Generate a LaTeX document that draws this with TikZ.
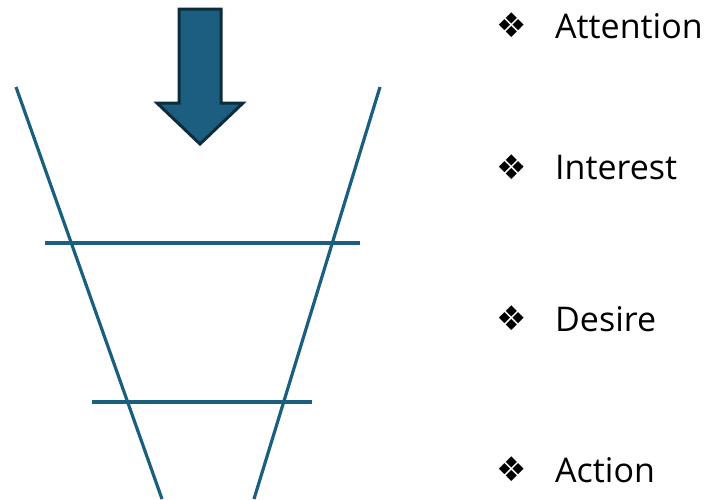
\documentclass[tikz,border=0pt]{standalone}
\usepackage{fontspec}
\setmainfont{Open Sans}
\newfontfamily\symfont{DejaVu Sans}
\definecolor{funnel}{HTML}{1A5F80}
\definecolor{arrowfill}{HTML}{1B5E80}
\definecolor{arrowedge}{HTML}{0D2C3C}
\begin{document}
\begin{tikzpicture}[x=1pt,y=-1pt,
  funnelline/.style={draw=funnel,line width=3.2pt},
  stagebullet/.style={anchor=center,inner sep=0pt,font=\symfont\fontsize{34}{34}\selectfont},
  stagelabel/.style={anchor=west,font=\fontsize{34}{34}\selectfont,inner sep=0pt}]
  \useasboundingbox (0,0) rectangle (707,499);
  % funnel walls
  \coordinate (lt) at (16,87);
  \coordinate (lb) at (162,499);
  \coordinate (rt) at (380,87);
  \coordinate (rb) at (254,499);
  \draw[funnelline] (lt) -- (lb);
  \draw[funnelline] (rt) -- (rb);
  % stage dividers
  \coordinate (d1l) at (45,243);
  \coordinate (d1r) at (360,243);
  \coordinate (d2l) at (92,402);
  \coordinate (d2r) at (312,402);
  \draw[funnelline] (d1l) -- (d1r);
  \draw[funnelline] (d2l) -- (d2r);
  % entry arrow
  \draw[fill=arrowfill,draw=arrowedge,line width=3pt,line join=miter]
    (179,9) -- (221,9) -- (221,103) -- (243,103) -- (200,144) -- (157,103) -- (179,103) -- cycle;
  % stage labels
  \foreach \y/\t [count=\i] in {25/Attention,167/Interest,318/Desire,469/Action}{
    \node[stagebullet] (b\i) at (512,\y) {❖};
    \node[stagelabel] (s\i) at (555,\y+1) {\t};
  }
\end{tikzpicture}
\end{document}
